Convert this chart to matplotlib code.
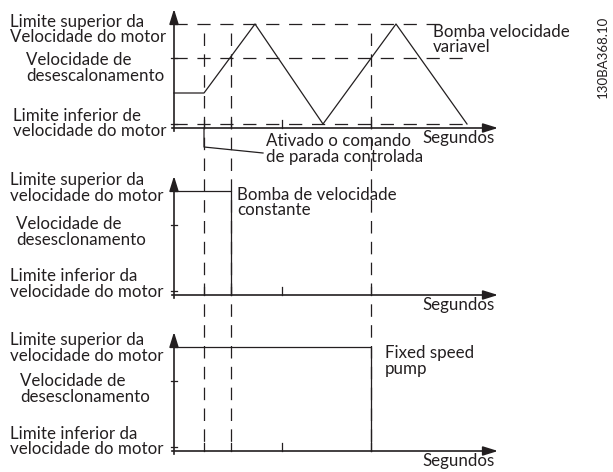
import matplotlib
matplotlib.use("Agg")
import matplotlib.pyplot as plt

plt.rcParams['font.family'] = ['Lato', 'DejaVu Sans']
plt.rcParams['lines.scale_dashes'] = False

INK = '#231f20'
FS = 12.2

# speed levels (fraction of the span lower->upper limit)
lvl_lower = 0.0
lvl_start = 0.31
lvl_decel = 0.66
lvl_upper = 1.0

# event times (arbitrary seconds)
t_stop_cmd = 3.0      # controlled stop activated
t_const_off = 5.7     # constant speed pump switched off
t_mid_tick = 10.8
t_fixed_off = 19.7    # fixed speed pump switched off
t_axis_end = 32.4

# variable speed pump trace
var_t = [0, 3.0, 8.1, 14.9, 22.2, 29.3]
var_v = [lvl_start, lvl_start, lvl_upper, lvl_lower, lvl_upper, lvl_lower]

# constant speed pump trace
const_t = [0, t_const_off, t_const_off]
const_v = [lvl_upper, lvl_upper, -0.04]

# fixed speed pump trace
fixed_t = [0, t_fixed_off, t_fixed_off]
fixed_v = [lvl_upper, lvl_upper, -0.04]

# guide lines in the top panel: (level, end time)
guides = [(lvl_upper, 27.3), (lvl_decel, 29.6), (lvl_lower, 29.1)]

# vertical offset of each panel's lower limit
offsets = [-1.24, -2.91, -4.47]

labels_left = [
    [("Limite superior da\nVelocidade do motor", 10, 0.21, 0.38),
     ("Velocidade de\ndesescalonamento", 26, 0.60, 0.76),
     ("Limite inferior de\nvelocidade do motor", 13, 1.15, 1.32)],
    [("Limite superior da\nvelocidade do motor", 10, 1.80, 1.96),
     ("Velocidade de\ndesesclonamento", 16, 2.24, 2.40),
     ("Limite inferior da\nvelocidade do motor", 10, 2.76, 2.92)],
    [("Limite superior da\nvelocidade do motor", 10, 3.40, 3.56),
     ("Velocidade de\ndesesclonamento", 20, 3.81, 3.97),
     ("Limite inferior da\nvelocidade do motor", 10, 4.33, 4.50)],
]

fig = plt.figure(figsize=(6.13, 4.72), dpi=100)
ax = fig.add_axes([0, 0, 1, 1])
ax.set_xlim(-17.4, 43.9)
ax.set_ylim(-4.72, 0)
ax.axis('off')

dash = (0, (9.5, 7))
axis_y = -0.04

for k, off in enumerate(offsets):
    # axes with arrows
    ax.plot([-0.2, t_axis_end - 1.0], [off + axis_y] * 2, color=INK, lw=1.2)
    ax.plot([0, 0], [off - 0.07, off + 1.05], color=INK, lw=1.2)
    ax.annotate('', xy=(t_axis_end, off + axis_y), xytext=(t_axis_end - 1.5, off + axis_y),
                arrowprops=dict(arrowstyle='-|>,head_length=0.9,head_width=0.28',
                                color=INK, lw=1.2, shrinkA=0, shrinkB=0, mutation_scale=10))
    ax.annotate('', xy=(0, off + 1.15), xytext=(0, off + 1.0),
                arrowprops=dict(arrowstyle='-|>,head_length=0.9,head_width=0.28',
                                color=INK, lw=1.2, shrinkA=0, shrinkB=0, mutation_scale=10))
    # y ticks
    for lv in (lvl_decel, lvl_lower):
        ax.plot([-0.3, 0.3], [off + lv] * 2, color=INK, lw=0.9)
    # x ticks
    for tt in (t_stop_cmd, t_const_off, t_mid_tick, t_fixed_off):
        ax.plot([tt, tt], [off + axis_y, off + axis_y + 0.08], color=INK, lw=0.9)
    ax.text(24.8, off + axis_y - 0.1, "Segundos", fontsize=FS, color=INK,
            va='center', ha='left')
    for txt, px, y1, y2 in labels_left[k]:
        ax.text(px / 10 - 17.4, -(y1 + y2) / 2, txt, fontsize=FS, color=INK,
                va='center', ha='left', linespacing=0.98)

# top panel guides
off = offsets[0]
for lv, tend in guides:
    ax.plot([0, tend], [off + lv] * 2, color=INK, lw=0.9, linestyle=dash)

# traces
ax.plot(var_t, [off + v for v in var_v], color=INK, lw=0.9)
ax.plot(const_t, [offsets[1] + v for v in const_v], color=INK, lw=0.9)
ax.plot(fixed_t, [offsets[2] + v for v in fixed_v], color=INK, lw=0.9)

# vertical event lines
y_top = -0.33
y_bot = offsets[2] + axis_y
for tt in (t_stop_cmd, t_const_off, t_fixed_off):
    ax.plot([tt, tt], [y_top, y_bot], color=INK, lw=0.9, linestyle=(0, (9, 6)))

# leader for the controlled stop
ax.plot([t_stop_cmd, t_stop_cmd, 8.9], [offsets[0] + axis_y, -1.47, -1.53],
        color=INK, lw=0.9)
ax.text(9.2, -1.49, "Ativado o comando\nde parada controlada", fontsize=FS,
        color=INK, va='center', ha='left', linespacing=0.98)

ax.text(25.9, -0.395, "Bomba velocidade\nvariavel", fontsize=FS, color=INK,
        va='center', ha='left', linespacing=0.98)
ax.text(6.3, -2.025, "Bomba de velocidade\nconstante", fontsize=FS, color=INK,
        va='center', ha='left', linespacing=0.98)
ax.text(21.1, -3.61, "Fixed speed\npump", fontsize=FS, color=INK,
        va='center', ha='left', linespacing=0.98)

ax.text(43.9 - 1.0, -0.57, "130BA368.10", fontsize=9.5, color=INK, rotation=90,
        va='center', ha='center')

fig.savefig("out.png", dpi=100)
